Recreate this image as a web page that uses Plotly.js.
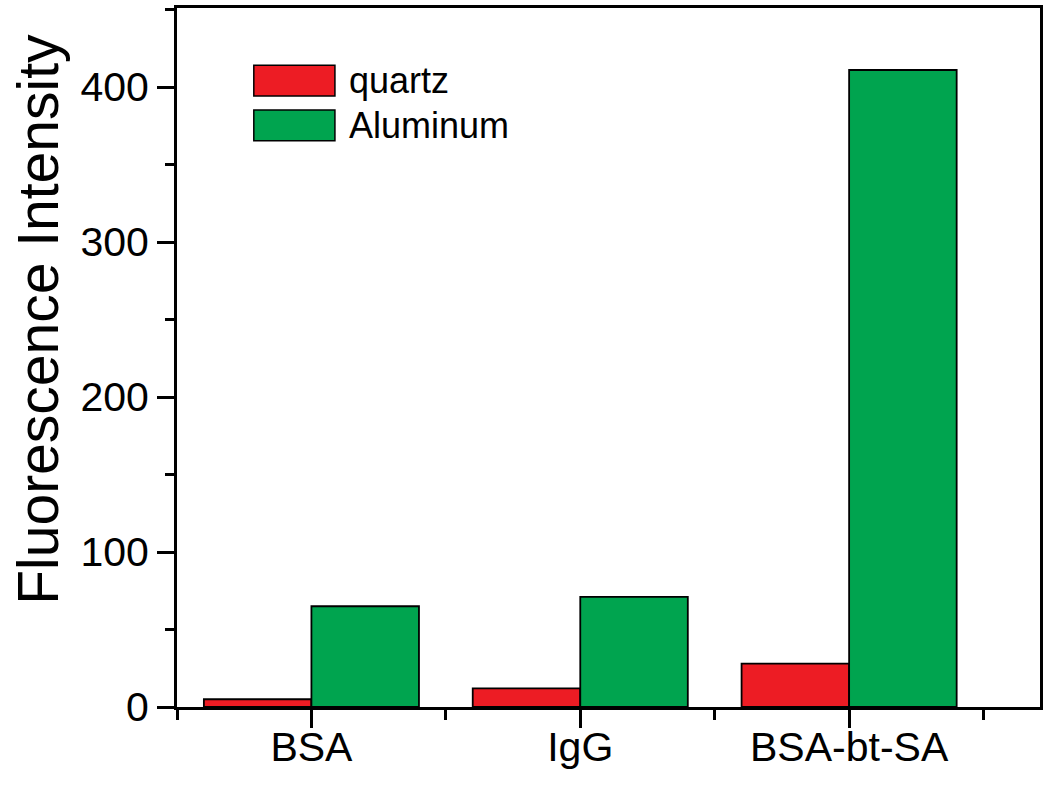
<!DOCTYPE html>
<html>
<head>
<meta charset="utf-8">
<script src="https://cdn.plot.ly/plotly-3.0.1.min.js"></script>
<style>
  body { margin: 0; background: #fff; }
  #plotContainer { width: 1050px; height: 785px; }
</style>
</head>
<body>
<div id="plotContainer"></div>
<script>
// values
var categories = ["BSA", "IgG", "BSA-bt-SA"];
var seriesNames = ["quartz", "Aluminum"];
var quartzValues = [5, 12, 28];
var aluminumValues = [65, 71, 411];
var seriesColors = ["#ed1c24", "#00a44f"];
var yTitle = "Fluorescence Intensity";

var xPos = categories.map((c, i) => i);
var font = "Liberation Sans, Arial, sans-serif";

var data = [quartzValues, aluminumValues].map((vals, i) => ({
  type: "bar",
  name: seriesNames[i],
  x: xPos,
  y: vals,
  marker: { color: seriesColors[i], line: { color: "#000", width: 1.8 } },
  showlegend: false,
  hoverinfo: "x+y",
}));

// big legend swatches like the original figure, drawn as paper shapes
var legendX0 = 0.089, legendX1 = 0.183;
var legendRows = [[0.874, 0.918], [0.810, 0.854]];
var shapes = legendRows.map((r, i) => ({
  type: "rect",
  xref: "paper", yref: "paper",
  x0: legendX0, x1: legendX1, y0: r[0], y1: r[1],
  fillcolor: seriesColors[i],
  line: { color: "#000", width: 1.5 },
}));
var annotations = legendRows.map((r, i) => ({
  xref: "paper", yref: "paper",
  x: 0.197, y: (r[0] + r[1]) / 2,
  xanchor: "left", yanchor: "middle",
  text: seriesNames[i],
  showarrow: false,
  font: { family: font, size: 36, color: "#000" },
}));

// y title sits a bit above the plot centre in the original, so place it by hand
annotations.push({
  xref: "paper", yref: "paper",
  x: 0, y: 0.554,
  xshift: -139,
  xanchor: "center", yanchor: "middle",
  textangle: -90,
  text: yTitle,
  showarrow: false,
  font: { family: font, size: 57, color: "#000" },
});

var layout = {
  width: 1050,
  height: 785,
  margin: { l: 177, r: 10, t: 8, b: 78 },
  paper_bgcolor: "#fff",
  plot_bgcolor: "#fff",
  font: { family: font, color: "#000" },
  barmode: "group",
  bargap: 0.2,
  bargroupgap: 0,
  xaxis: {
    range: [-0.5, 2.71],
    tickvals: xPos,
    ticktext: categories,
    ticks: "outside",
    ticklen: 18,
    tickwidth: 3,
    tickcolor: "#000",
    ticklabelstandoff: -16,
    minor: { tick0: 0.5, dtick: 1, ticks: "outside", ticklen: 10, tickwidth: 3, tickcolor: "#000" },
    showline: true,
    linecolor: "#000",
    linewidth: 3,
    mirror: true,
    showgrid: false,
    zeroline: false,
    tickfont: { family: font, size: 41, color: "#000" },
    fixedrange: true,
  },
  yaxis: {
    range: [0, 451],
    dtick: 100,
    ticks: "outside",
    ticklen: 17,
    tickwidth: 3,
    tickcolor: "#000",
    minor: { dtick: 50, ticks: "outside", ticklen: 9, tickwidth: 3, tickcolor: "#000" },
    showline: true,
    linecolor: "#000",
    linewidth: 3,
    mirror: true,
    showgrid: false,
    zeroline: false,
    tickfont: { family: font, size: 41, color: "#000" },
    fixedrange: true,
  },
  shapes: shapes,
  annotations: annotations,
};

Plotly.newPlot("plotContainer", data, layout, { displayModeBar: false, responsive: false });
</script>
</body>
</html>
